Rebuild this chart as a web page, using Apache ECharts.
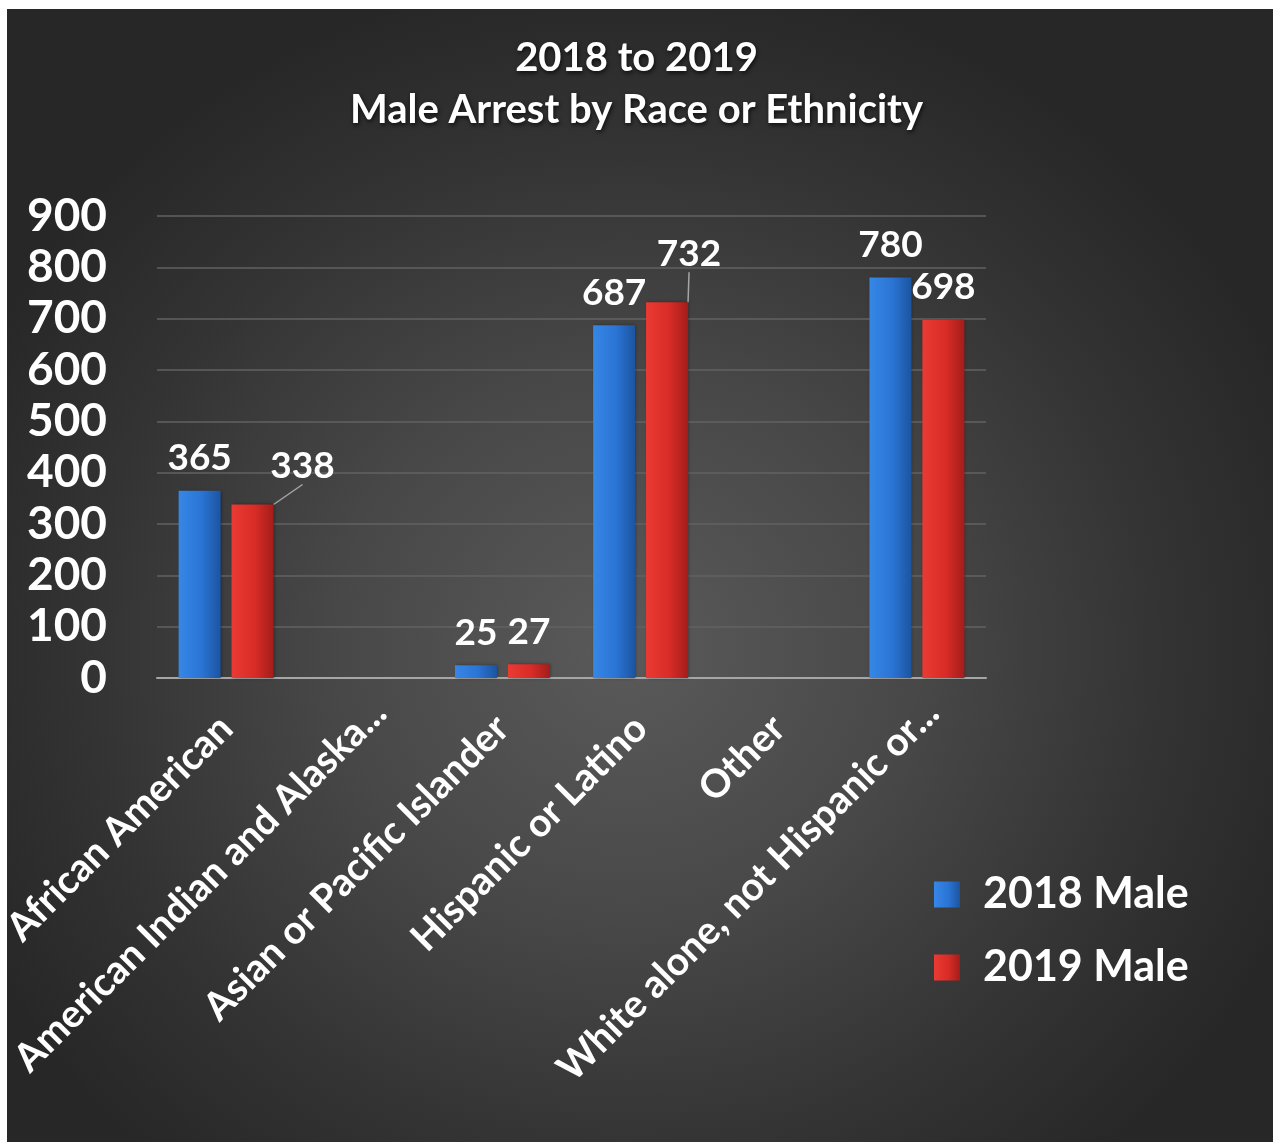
<!DOCTYPE html>
<html>
<head>
<meta charset="utf-8">
<title>Male Arrest by Race or Ethnicity</title>
<script src="https://cdn.jsdelivr.net/npm/echarts@6/dist/echarts.min.js"></script>
<style>
  html, body { margin: 0; padding: 0; background: #ffffff; }
  #panel {
    position: absolute; left: 7px; top: 9px; width: 1266px; height: 1133px;
    background: radial-gradient(ellipse 720px 680px at 620px 640px, #5a5a5a 0%, #484848 40%, #333333 75%, #272727 100%);
  }
  #chart { position: absolute; left: 0; top: 0; width: 1273px; height: 1142px; }
</style>
</head>
<body>
<div id="panel"></div>
<div id="chart"></div>
<script>
// Categories as printed under the axis
const categories = [
  'African American',
  'American Indian and Alaska...',
  'Asian or Pacific Islander',
  'Hispanic or Latino',
  'Other',
  'White alone, not Hispanic or...'
];
const seriesNames = ['2018 Male', '2019 Male'];
const male2018 = [365, null, 25, 687, null, 780];
const male2019 = [338, null, 27, 732, null, 698];
const yTicks = { min: 0, max: 900, interval: 100 };

// Labels pulled aside with a leader line (index -> shift in px)
const shifted2019 = { 0: [50, -6], 3: [22, -16] };

const FONT = 'Lato';

function grad(c0, c1, c2) {
  return new echarts.graphic.LinearGradient(0, 0, 1, 0, [
    { offset: 0, color: c0 },
    { offset: 0.55, color: c1 },
    { offset: 1, color: c2 }
  ]);
}
const blueFill = grad('#3687e6', '#2a74d4', '#1c54a0');
const redFill = grad('#ea3a33', '#d92c27', '#a31d1b');

// Truncated names sit a little further along their slant
const axisData = categories.map(c => c.endsWith('...')
  ? { value: c, textStyle: { padding: [0, -22, 0, 0] } }
  : c);

const labelStyle = {
  show: true,
  position: 'top',
  distance: 14,
  color: '#ffffff',
  fontFamily: FONT,
  fontWeight: 'bold',
  fontSize: 37,
  formatter: p => (p.value == null ? '' : p.value)
};

const chart = echarts.init(document.getElementById('chart'), null, { renderer: 'canvas' });

chart.setOption({
  backgroundColor: 'transparent',
  title: {
    text: '2018 to 2019\nMale Arrest by Race or Ethnicity',
    left: 'center',
    top: 27,
    textStyle: {
      color: '#ffffff',
      fontFamily: FONT,
      fontWeight: 'bold',
      fontSize: 40,
      lineHeight: 52,
      textShadowColor: 'rgba(0,0,0,0.7)',
      textShadowBlur: 4,
      textShadowOffsetX: 1,
      textShadowOffsetY: 2
    }
  },
  legend: {
    orient: 'vertical',
    left: 929,
    top: 868,
    itemWidth: 26,
    itemHeight: 26,
    itemGap: 30,
    icon: 'rect',
    data: seriesNames,
    textStyle: {
      color: '#ffffff',
      fontFamily: FONT,
      fontWeight: 'bold',
      fontSize: 43,
      padding: [0, 0, 0, 18]
    }
  },
  grid: {
    left: 157, right: 287, top: 216, bottom: 464,
    containLabel: false,
    outerBoundsMode: 'none'
  },
  xAxis: {
    type: 'category',
    data: axisData,
    axisLine: { show: true, lineStyle: { color: '#a6a6a6', width: 2 } },
    axisTick: { show: false },
    axisLabel: {
      interval: 0,
      rotate: 45,
      margin: 44,
      color: '#ffffff',
      fontFamily: FONT,
      fontWeight: 'bold',
      fontSize: 39
    }
  },
  yAxis: {
    type: 'value',
    min: yTicks.min,
    max: yTicks.max,
    interval: yTicks.interval,
    axisLine: { show: false },
    axisTick: { show: false },
    splitLine: { lineStyle: { color: '#626262', width: 1.5 } },
    axisLabel: {
      margin: 50,
      color: '#ffffff',
      fontFamily: FONT,
      fontWeight: 'bold',
      fontSize: 46
    }
  },
  series: [
    {
      name: seriesNames[0],
      type: 'bar',
      barWidth: 42,
      barGap: '26%',
      data: male2018,
      itemStyle: { color: blueFill, shadowColor: 'rgba(0,0,0,0.35)', shadowBlur: 3, shadowOffsetX: 1 },
      label: labelStyle
    },
    {
      name: seriesNames[1],
      type: 'bar',
      barWidth: 42,
      data: male2019.map((v, i) => shifted2019[i]
        ? { value: v, labelLine: { show: true, lineStyle: { color: '#a6a6a6', width: 1.5 } } }
        : v),
      itemStyle: { color: redFill, shadowColor: 'rgba(0,0,0,0.35)', shadowBlur: 3, shadowOffsetX: 1 },
      label: labelStyle,
      labelLine: { show: false },
      labelLayout: function (params) {
        const s = shifted2019[params.dataIndex];
        return s ? { dx: s[0], dy: s[1] } : {};
      }
    }
  ]
});
</script>
</body>
</html>
